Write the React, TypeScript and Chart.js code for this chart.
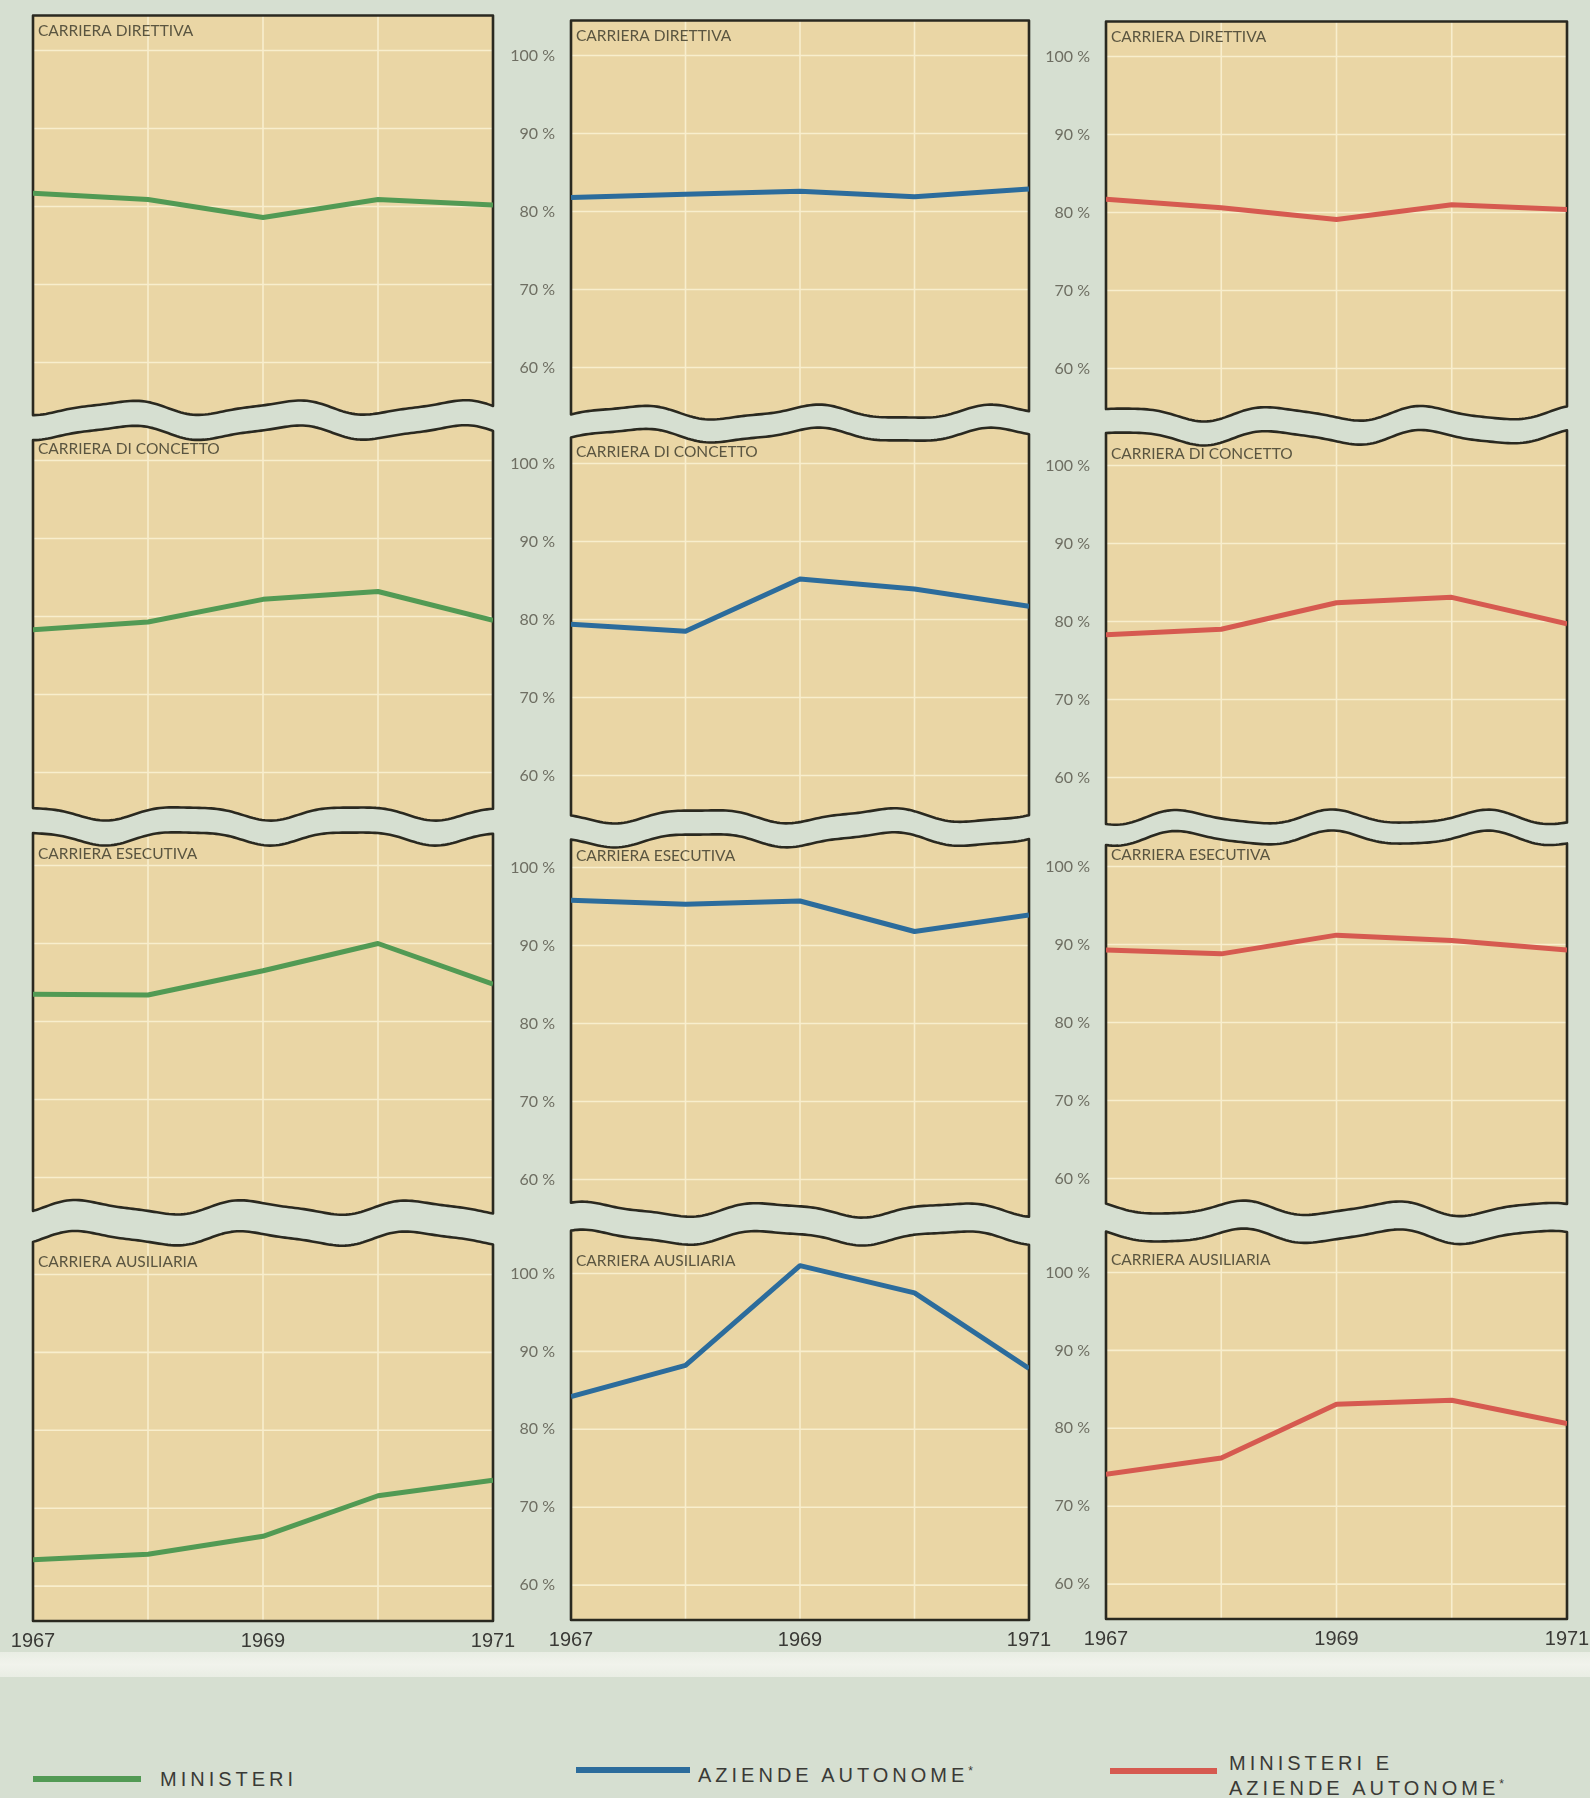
import React, { useEffect, useRef } from 'react';
import { Chart, registerables } from 'chart.js';

Chart.register(...registerables);

// ---------- DATA ----------
const years = [1967, 1968, 1969, 1970, 1971];
const xTickValues = [1967, 1969, 1971];
const gridYears = [1968, 1969, 1970];
const yTickValues = [60, 70, 80, 90, 100];
const careers = ['CARRIERA DIRETTIVA', 'CARRIERA DI CONCETTO', 'CARRIERA ESECUTIVA', 'CARRIERA AUSILIARIA'];
const seriesNames = ['MINISTERI', 'AZIENDE AUTONOME', 'MINISTERI E AZIENDE AUTONOME'];

const ministeriDirettiva = [81.7, 80.9, 78.6, 80.9, 80.2];
const ministeriConcetto = [78.3, 79.3, 82.2, 83.2, 79.5];
const ministeriEsecutiva = [83.5, 83.4, 86.5, 90.0, 84.8];
const ministeriAusiliaria = [63.4, 64.1, 66.4, 71.6, 73.6];

const aziendeDirettiva = [81.8, 82.2, 82.6, 81.9, 82.9];
const aziendeConcetto = [79.4, 78.5, 85.2, 83.9, 81.7];
const aziendeEsecutiva = [95.8, 95.3, 95.7, 91.8, 93.9];
const aziendeAusiliaria = [84.2, 88.2, 101.0, 97.5, 87.8];

const totaleDirettiva = [81.7, 80.6, 79.1, 81.0, 80.4];
const totaleConcetto = [78.3, 79.0, 82.4, 83.1, 79.7];
const totaleEsecutiva = [89.3, 88.8, 91.2, 90.5, 89.3];
const totaleAusiliaria = [74.1, 76.2, 83.1, 83.6, 80.6];

const seriesByColumn = [
  [ministeriDirettiva, ministeriConcetto, ministeriEsecutiva, ministeriAusiliaria],
  [aziendeDirettiva, aziendeConcetto, aziendeEsecutiva, aziendeAusiliaria],
  [totaleDirettiva, totaleConcetto, totaleEsecutiva, totaleAusiliaria],
];

// ---------- STYLE / LAYOUT ----------
const seriesColors = ['#529a54', '#2c6c9c', '#d65a50'];
const PAGE_BG = '#d6dfd1';
const PANEL_FILL = '#ead6a5';
const GRID_COLOR = '#f8eecd';
const OUTLINE = '#2a2920';
const TITLE_COLOR = '#5a5540';
const TICK_COLOR = '#6e6e62';

const PX = 7.8; // px per percentage point
const Y_MAX = 107.5;
const Y_MIN_WAVY = 52.5;
const Y_MIN_FLAT = 55.4;
const PAD_TOP = 34;
const AXIS_W = 66;
const colLeft = [33, 571, 1106];
const colRight = [493, 1029, 1567];
const y100 = [
  [50, 55, 56],
  [460, 463, 465],
  [865, 867, 866],
  [1274, 1273, 1272],
];
const topOffset = [35, 28, 28, 36];
const bottomOffset = [45, 40, 30, 36];

function wave(t: number, seed: number) {
  return 6.5 * Math.sin(t / (24 + (seed % 3) * 2.5) + seed * 1.3) + 1.6 * Math.sin(t / 13 + seed * 2.1);
}

function Panel({ row, col }: { row: number; col: number }) {
  const ref = useRef<HTMLCanvasElement>(null);
  const isLast = row === 3;
  const yMin = isLast ? Y_MIN_FLAT : Y_MIN_WAVY;
  const H = (Y_MAX - yMin) * PX;
  const leftPad = col === 0 ? 40 : 0;
  const axisW = col === 0 ? 0 : AXIS_W;
  const rightPad = 40;
  const W = colRight[col] - colLeft[col];
  const canvasLeft = colLeft[col] - leftPad - axisW;
  const canvasWidth = leftPad + axisW + W + rightPad;
  const chartTop = y100[row][col] - (Y_MAX - 100) * PX;
  const canvasTop = chartTop - PAD_TOP;
  const bottomPad = isLast ? 4 : 34;
  const canvasHeight = PAD_TOP + H + bottomPad + (isLast ? 44 : 0);

  useEffect(() => {
    const canvas = ref.current!;
    const values = seriesByColumn[col][row];
    const title = careers[row];
    const panelPlugin = {
      id: 'panel',
      beforeDatasetsDraw(chart: any) {
        const { ctx, scales, chartArea } = chart;
        const x = scales.x;
        const y = scales.y;
        const xl = x.getPixelForValue(years[0]);
        const xr = x.getPixelForValue(years[years.length - 1]);
        const p100 = y.getPixelForValue(100);
        const p60 = y.getPixelForValue(60);
        const topAt = (px: number) =>
          row === 0 ? p100 - topOffset[0] : p100 - topOffset[row] + wave(px - xl, (row - 1) * 3 + col + 1);
        const botAt = (px: number) =>
          row === 3 ? chartArea.bottom - 1 : p60 + bottomOffset[row] + wave(px - xl, row * 3 + col + 1);
        const path = new Path2D();
        const step = 3;
        path.moveTo(xl, topAt(xl));
        for (let px = xl + step; px < xr; px += step) path.lineTo(px, topAt(px));
        path.lineTo(xr, topAt(xr));
        path.lineTo(xr, botAt(xr));
        for (let px = xr - step; px > xl; px -= step) path.lineTo(px, botAt(px));
        path.lineTo(xl, botAt(xl));
        path.closePath();

        ctx.save();
        ctx.fillStyle = PANEL_FILL;
        ctx.fill(path);
        ctx.save();
        ctx.clip(path);
        ctx.strokeStyle = GRID_COLOR;
        ctx.lineWidth = 1.6;
        yTickValues.forEach((v) => {
          const py = y.getPixelForValue(v);
          ctx.beginPath();
          ctx.moveTo(xl, py);
          ctx.lineTo(xr, py);
          ctx.stroke();
        });
        gridYears.forEach((yr) => {
          const px = x.getPixelForValue(yr);
          ctx.beginPath();
          ctx.moveTo(px, chartArea.top);
          ctx.lineTo(px, chartArea.bottom);
          ctx.stroke();
        });
        ctx.restore();
        ctx.lineWidth = 2.6;
        ctx.strokeStyle = OUTLINE;
        ctx.lineJoin = 'round';
        ctx.stroke(path);
        ctx.fillStyle = TITLE_COLOR;
        ctx.font = '15.5px Lato, "Open Sans", sans-serif';
        ctx.textBaseline = 'middle';
        ctx.textAlign = 'left';
        ctx.fillText(title, xl + 5, p100 - (row === 0 ? 20 : 12));
        ctx.restore();
      },
    };

    const chart = new Chart(canvas, {
      type: 'line',
      data: {
        datasets: [
          {
            label: seriesNames[col],
            data: years.map((yr, i) => ({ x: yr, y: values[i] })),
            borderColor: seriesColors[col],
            borderWidth: 5,
            pointRadius: 0,
            tension: 0,
            borderCapStyle: 'butt',
            borderJoinStyle: 'round',
          },
        ],
      },
      options: {
        animation: false,
        responsive: false,
        maintainAspectRatio: false,
        devicePixelRatio: 1,
        events: [],
        layout: { padding: { left: leftPad, right: rightPad, top: PAD_TOP, bottom: bottomPad } },
        plugins: { legend: { display: false }, tooltip: { enabled: false } },
        scales: {
          x: {
            type: 'linear',
            min: years[0],
            max: years[years.length - 1],
            display: isLast,
            grid: { display: false, drawTicks: false },
            border: { display: false },
            afterBuildTicks: (a: any) => {
              a.ticks = xTickValues.map((v) => ({ value: v }));
            },
            afterFit: (a: any) => {
              a.height = isLast ? 44 : 0;
            },
            ticks: {
              padding: 7,
              color: '#3a3a36',
              maxRotation: 0,
              autoSkip: false,
              font: { family: '"Liberation Sans", Arial, sans-serif', size: 20 },
              callback: (v: any) => String(v),
            },
          },
          y: {
            type: 'linear',
            min: yMin,
            max: Y_MAX,
            display: col > 0,
            position: 'left',
            grid: { display: false, drawTicks: false },
            border: { display: false },
            afterBuildTicks: (a: any) => {
              a.ticks = yTickValues.map((v) => ({ value: v }));
            },
            afterFit: (a: any) => {
              a.width = col > 0 ? AXIS_W : 0;
            },
            ticks: {
              padding: 16,
              color: TICK_COLOR,
              font: { family: 'Lato, "Open Sans", sans-serif', size: 16 },
              callback: (v: any) => v + ' %',
            },
          },
        },
      },
      plugins: [panelPlugin],
    } as any);
    return () => chart.destroy();
  }, []);

  return (
    <canvas
      ref={ref}
      width={canvasWidth}
      height={canvasHeight}
      style={{
        position: 'absolute',
        left: canvasLeft,
        top: canvasTop,
        width: canvasWidth,
        height: canvasHeight,
      }}
    />
  );
}

const legendText: React.CSSProperties = {
  position: 'absolute',
  fontFamily: '"Liberation Sans", Arial, sans-serif',
  fontSize: 20,
  letterSpacing: '4px',
  color: '#3a3a36',
  lineHeight: '24px',
  whiteSpace: 'nowrap',
};

function Star() {
  return <span style={{ fontSize: 12, position: 'relative', top: -7, letterSpacing: 0 }}>*</span>;
}

export default function App() {
  const panels: JSX.Element[] = [];
  for (let r = 0; r < 4; r++) {
    for (let c = 0; c < 3; c++) {
      panels.push(<Panel key={`${r}-${c}`} row={r} col={c} />);
    }
  }
  return (
    <div
      style={{
        position: 'absolute',
        left: 0,
        top: 0,
        width: 1590,
        height: 1798,
        background: PAGE_BG,
        overflow: 'hidden',
      }}
    >
      {panels}
      <div
        style={{
          position: 'absolute',
          left: 0,
          top: 1652,
          width: 1590,
          height: 25,
          background: 'linear-gradient(#e9ede4, #f1f3ec 50%, #e9ede4)',
        }}
      />
      {/* legend */}
      <div style={{ position: 'absolute', left: 33, top: 1776, width: 108, height: 6, background: seriesColors[0] }} />
      <div style={{ ...legendText, left: 160, top: 1767 }}>{seriesNames[0]}</div>

      <div style={{ position: 'absolute', left: 576, top: 1767, width: 114, height: 6, background: seriesColors[1] }} />
      <div style={{ ...legendText, left: 698, top: 1763 }}>
        {seriesNames[1]}
        <Star />
      </div>

      <div style={{ position: 'absolute', left: 1110, top: 1768, width: 107, height: 6, background: seriesColors[2] }} />
      <div style={{ ...legendText, left: 1229, top: 1751 }}>MINISTERI E</div>
      <div style={{ ...legendText, left: 1229, top: 1776 }}>
        AZIENDE AUTONOME
        <Star />
      </div>
    </div>
  );
}
